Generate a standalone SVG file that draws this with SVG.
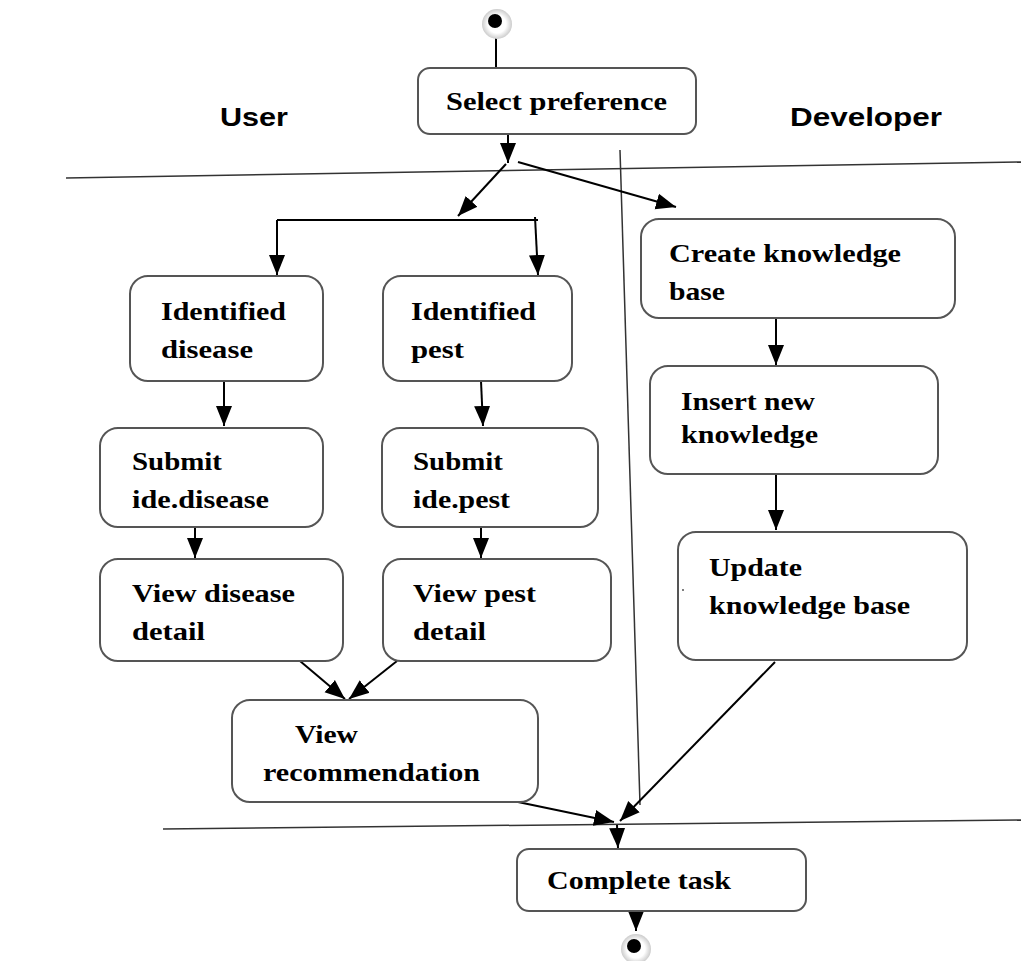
<svg xmlns="http://www.w3.org/2000/svg" width="1021" height="961" viewBox="0 0 1021 961">
<defs>
<marker id="ahb" viewBox="0 0 10 10" refX="10" refY="5" markerWidth="20" markerHeight="20" markerUnits="userSpaceOnUse" orient="auto">
<path d="M0,1 L10,5 L0,9 z" fill="#000"/>
</marker>
<radialGradient id="ring" cx="0.5" cy="0.5" r="0.5">
<stop offset="0.6" stop-color="#fff"/>
<stop offset="1" stop-color="#ccc"/>
</radialGradient>
</defs>
<style>
.box{fill:#fff;stroke:#555;stroke-width:2}
.t{font-family:"Liberation Serif","Times New Roman",serif;font-weight:bold;font-size:25px;fill:#000}
.lane{font-family:"Liberation Sans",Arial,sans-serif;font-weight:bold;font-size:26px;fill:#000}
.c{stroke:#000;stroke-width:2;fill:none}
.sl{stroke:#333;stroke-width:1.5;fill:none}
</style>
<rect width="1021" height="961" fill="#fff"/>
<g id="lanes">
<line class="sl" x1="66" y1="178" x2="1021" y2="162"/>
<line class="sl" x1="163" y1="829" x2="1021" y2="820"/>
<line class="sl" x1="620" y1="150" x2="640" y2="805"/>
<text class="lane" x="220" y="126" textLength="68" lengthAdjust="spacingAndGlyphs">User</text>
<text class="lane" x="790" y="126" textLength="152" lengthAdjust="spacingAndGlyphs">Developer</text>
</g>
<g id="connectors">
<line class="c" x1="496" y1="36" x2="496" y2="68"/>
<line class="c" x1="486" y1="68" x2="506" y2="68"/>
<line class="c" x1="508" y1="134" x2="508" y2="163" marker-end="url(#ahb)"/>
<line class="c" x1="506" y1="164" x2="458" y2="216" marker-end="url(#ahb)"/>
<line class="c" x1="518" y1="162" x2="676" y2="207" marker-end="url(#ahb)"/>
<line class="c" x1="277" y1="220" x2="538" y2="220"/>
<line class="c" x1="277" y1="220" x2="277" y2="275" marker-end="url(#ahb)"/>
<line class="c" x1="535" y1="217" x2="538" y2="275" marker-end="url(#ahb)"/>
<line class="c" x1="224" y1="381" x2="224" y2="426" marker-end="url(#ahb)"/>
<line class="c" x1="481" y1="381" x2="483" y2="426" marker-end="url(#ahb)"/>
<line class="c" x1="776" y1="318" x2="776" y2="365" marker-end="url(#ahb)"/>
<line class="c" x1="195" y1="527" x2="195" y2="558" marker-end="url(#ahb)"/>
<line class="c" x1="481" y1="527" x2="481" y2="558" marker-end="url(#ahb)"/>
<line class="c" x1="776" y1="474" x2="776" y2="530" marker-end="url(#ahb)"/>
<line class="c" x1="300" y1="661" x2="345" y2="699" marker-end="url(#ahb)"/>
<line class="c" x1="397" y1="661" x2="349" y2="699" marker-end="url(#ahb)"/>
<line class="c" x1="518" y1="802" x2="614" y2="822" marker-end="url(#ahb)"/>
<line class="c" x1="775" y1="662" x2="620" y2="821" marker-end="url(#ahb)"/>
<line class="c" x1="617" y1="825" x2="618" y2="848" marker-end="url(#ahb)"/>
<line class="c" x1="636" y1="911" x2="636" y2="931" marker-end="url(#ahb)"/>
</g>
<g id="start">
<circle cx="497" cy="24" r="15" fill="url(#ring)"/>
<circle cx="495" cy="21" r="7" fill="#000"/>
</g>
<g id="select-preference">
<rect class="box" x="418" y="68" width="278" height="66" rx="12"/>
<text class="t" x="446" y="110" textLength="221" lengthAdjust="spacingAndGlyphs">Select preference</text>
</g>
<g id="identified-disease">
<rect class="box" x="130" y="276" width="193" height="105" rx="18"/>
<text class="t" x="161" y="320" textLength="125" lengthAdjust="spacingAndGlyphs">Identified</text>
<text class="t" x="161" y="358" textLength="92" lengthAdjust="spacingAndGlyphs">disease</text>
</g>
<g id="identified-pest">
<rect class="box" x="383" y="276" width="189" height="105" rx="18"/>
<text class="t" x="411" y="320" textLength="125" lengthAdjust="spacingAndGlyphs">Identified</text>
<text class="t" x="411" y="358" textLength="53" lengthAdjust="spacingAndGlyphs">pest</text>
</g>
<g id="create-kb">
<rect class="box" x="641" y="219" width="314" height="99" rx="18"/>
<text class="t" x="669" y="262" textLength="232" lengthAdjust="spacingAndGlyphs">Create knowledge</text>
<text class="t" x="669" y="300" textLength="56" lengthAdjust="spacingAndGlyphs">base</text>
</g>
<g id="submit-disease">
<rect class="box" x="100" y="428" width="223" height="99" rx="18"/>
<text class="t" x="132" y="470" textLength="90" lengthAdjust="spacingAndGlyphs">Submit</text>
<text class="t" x="132" y="508" textLength="137" lengthAdjust="spacingAndGlyphs">ide.disease</text>
</g>
<g id="submit-pest">
<rect class="box" x="382" y="428" width="216" height="99" rx="18"/>
<text class="t" x="413" y="470" textLength="90" lengthAdjust="spacingAndGlyphs">Submit</text>
<text class="t" x="413" y="508" textLength="97" lengthAdjust="spacingAndGlyphs">ide.pest</text>
</g>
<g id="insert-knowledge">
<rect class="box" x="650" y="366" width="288" height="108" rx="18"/>
<text class="t" x="681" y="410" textLength="134" lengthAdjust="spacingAndGlyphs">Insert new</text>
<text class="t" x="681" y="443" textLength="137" lengthAdjust="spacingAndGlyphs">knowledge</text>
</g>
<g id="view-disease">
<rect class="box" x="100" y="559" width="243" height="102" rx="18"/>
<text class="t" x="132" y="602" textLength="163" lengthAdjust="spacingAndGlyphs">View disease</text>
<text class="t" x="132" y="640" textLength="73" lengthAdjust="spacingAndGlyphs">detail</text>
</g>
<g id="view-pest">
<rect class="box" x="383" y="559" width="228" height="102" rx="18"/>
<text class="t" x="413" y="602" textLength="123" lengthAdjust="spacingAndGlyphs">View pest</text>
<text class="t" x="413" y="640" textLength="73" lengthAdjust="spacingAndGlyphs">detail</text>
</g>
<g id="update-kb">
<rect class="box" x="678" y="532" width="289" height="128" rx="18"/>
<text class="t" x="709" y="576" textLength="93" lengthAdjust="spacingAndGlyphs">Update</text>
<text class="t" x="709" y="614" textLength="201" lengthAdjust="spacingAndGlyphs">knowledge base</text>
<circle cx="683" cy="590" r="1" fill="#555"/>
</g>
<g id="view-recommendation">
<rect class="box" x="232" y="700" width="306" height="102" rx="18"/>
<text class="t" x="295" y="743" textLength="63" lengthAdjust="spacingAndGlyphs">View</text>
<text class="t" x="263" y="781" textLength="217" lengthAdjust="spacingAndGlyphs">recommendation</text>
</g>
<g id="complete-task">
<rect class="box" x="517" y="849" width="289" height="62" rx="12"/>
<text class="t" x="547" y="889" textLength="184" lengthAdjust="spacingAndGlyphs">Complete task</text>
</g>
<g id="end">
<circle cx="636" cy="949" r="15" fill="url(#ring)"/>
<circle cx="634" cy="946" r="7" fill="#000"/>
</g>
</svg>
